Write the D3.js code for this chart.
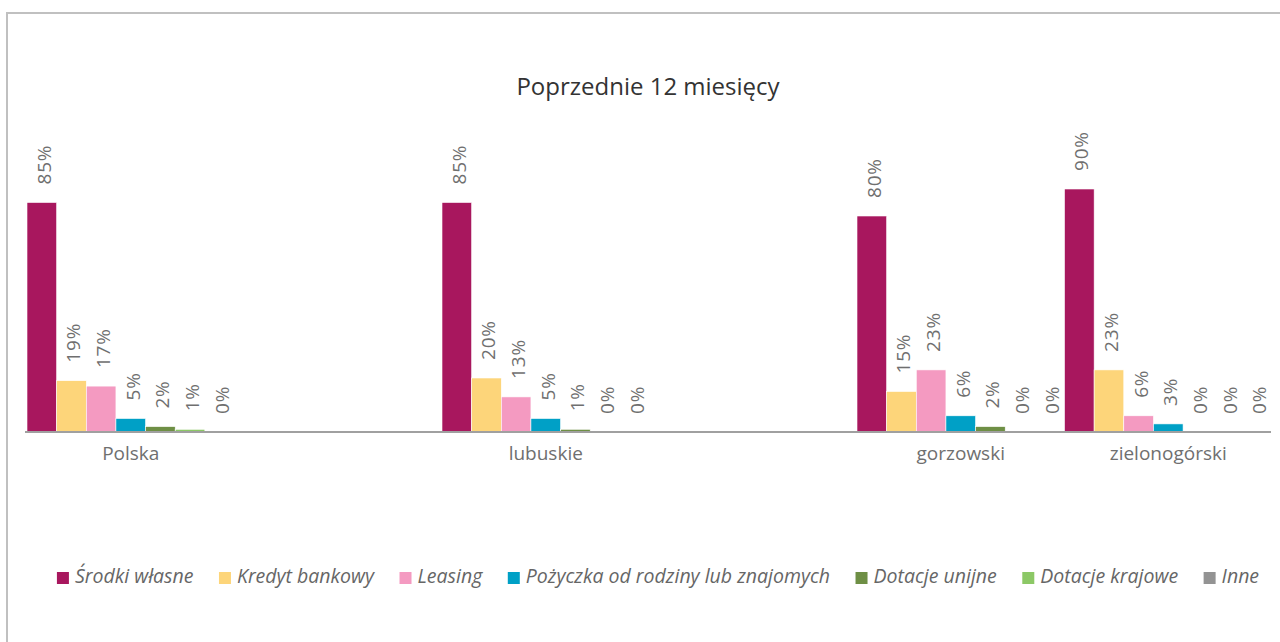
<!DOCTYPE html>
<html lang="pl">
<head>
    <meta charset="UTF-8">
    <title>Poprzednie 12 miesięcy</title>
    <script src="https://cdn.jsdelivr.net/npm/d3@7"></script>
    <style>
        body {
            margin: 0;
            padding: 0;
            background: #fff;
            font-family: "Open Sans", Arial, sans-serif;
            overflow: hidden;
        }
        #chart {
            display: block;
        }
    </style>
</head>
<body>
    <svg id="chart"></svg>
    <script>
        // Categories (null = empty slot on the axis)
        const categories = ["Polska", null, "lubuskie", null, "gorzowski", "zielonogórski"];

        const seriesNames = [
            "Środki własne",
            "Kredyt bankowy",
            "Leasing",
            "Pożyczka od rodziny lub znajomych",
            "Dotacje unijne",
            "Dotacje krajowe",
            "Inne"
        ];

        const seriesColors = ["#a8175e", "#fdd57a", "#f49ac1", "#00a0c6", "#6e8f45", "#8cc866", "#939393"];

        // Values per series, aligned with categories
        const srodkiWlasne   = [85, null, 85, null, 80, 90];
        const kredytBankowy  = [19, null, 20, null, 15, 23];
        const leasing        = [17, null, 13, null, 23, 6];
        const pozyczka       = [5, null, 5, null, 6, 3];
        const dotacjeUnijne  = [2, null, 1, null, 2, 0];
        const dotacjeKrajowe = [1, null, 0, null, 0, 0];
        const inne           = [0, null, 0, null, 0, 0];

        const seriesValues = [srodkiWlasne, kredytBankowy, leasing, pozyczka, dotacjeUnijne, dotacjeKrajowe, inne];

        const width = 1280, height = 642;
        const svg = d3.select('#chart').attr('width', width).attr('height', height);

        // outer frame (only top/left visible in view)
        svg.append('rect')
            .attr('x', 7).attr('y', 13)
            .attr('width', width + 20).attr('height', height + 20)
            .attr('fill', 'none')
            .attr('stroke', '#c0c0c0')
            .attr('stroke-width', 2);

        svg.append('text')
            .attr('x', 648).attr('y', 95)
            .attr('text-anchor', 'middle')
            .attr('font-size', 24)
            .attr('fill', '#333')
            .text('Poprzednie 12 miesięcy');

        const x0 = d3.scaleBand()
            .domain(d3.range(categories.length))
            .range([27, 1272])
            .padding(0);

        const x1 = d3.scaleBand()
            .domain(d3.range(seriesNames.length))
            .range([0, x0.bandwidth()])
            .padding(0);

        const y = d3.scaleLinear().domain([0, 100]).range([432, 162]);

        // bars
        const groups = svg.append('g').selectAll('g')
            .data(categories.map((c, i) => ({ cat: c, idx: i })).filter(d => d.cat !== null))
            .join('g')
            .attr('transform', d => `translate(${x0(d.idx)},0)`);

        groups.selectAll('rect')
            .data(d => seriesValues.map((vals, s) => ({ s, v: vals[d.idx] })))
            .join('rect')
            .attr('x', d => x1(d.s))
            .attr('width', x1.bandwidth())
            .attr('y', d => y(d.v))
            .attr('height', d => y(0) - y(d.v))
            .attr('fill', d => seriesColors[d.s])
            .attr('stroke', '#fff')
            .attr('stroke-width', 0.6);

        groups.selectAll('text')
            .data(d => seriesValues.map((vals, s) => ({ s, v: vals[d.idx] })))
            .join('text')
            .attr('transform', d => `translate(${x1(d.s) + x1.bandwidth() / 2 + 2},${y(d.v) - 18}) rotate(-90)`)
            .attr('dominant-baseline', 'central')
            .attr('font-size', 19)
            .attr('letter-spacing', 0.8)
            .attr('fill', '#6f6f6f')
            .text(d => d.v + '%');

        // category axis
        const xAxis = d3.axisBottom(x0)
            .tickSize(0)
            .tickFormat(i => categories[i] || '');

        const axisG = svg.append('g')
            .attr('transform', `translate(0,${y(0)})`)
            .call(xAxis);
        axisG.select('.domain')
            .attr('d', `M25,0H1271`)
            .attr('stroke', '#a0a0a0')
            .attr('stroke-width', 2);
        axisG.selectAll('.tick text')
            .attr('dy', 0)
            .attr('y', 28)
            .attr('font-size', 19)
            .attr('font-family', '"Open Sans", Arial, sans-serif')
            .attr('fill', '#6f6f6f');

        // legend
        const legend = svg.append('g');
        const sw = 12, gapText = 6, gapItem = 25.5;
        let cx = 0;
        seriesNames.forEach((name, i) => {
            const g = legend.append('g');
            g.append('rect')
                .attr('width', sw).attr('height', sw)
                .attr('y', -sw + 1)
                .attr('fill', seriesColors[i]);
            const t = g.append('text')
                .attr('x', sw + gapText)
                .attr('font-size', 19.5)
                .attr('font-style', 'italic')
                .attr('fill', '#666')
                .text(name);
            const w = sw + gapText + t.node().getComputedTextLength();
            g.attr('transform', `translate(${cx},0)`);
            cx += w + gapItem;
        });
        const totalW = cx - gapItem;
        legend.attr('transform', `translate(${658 - totalW / 2},583)`);
    </script>
</body>
</html>
